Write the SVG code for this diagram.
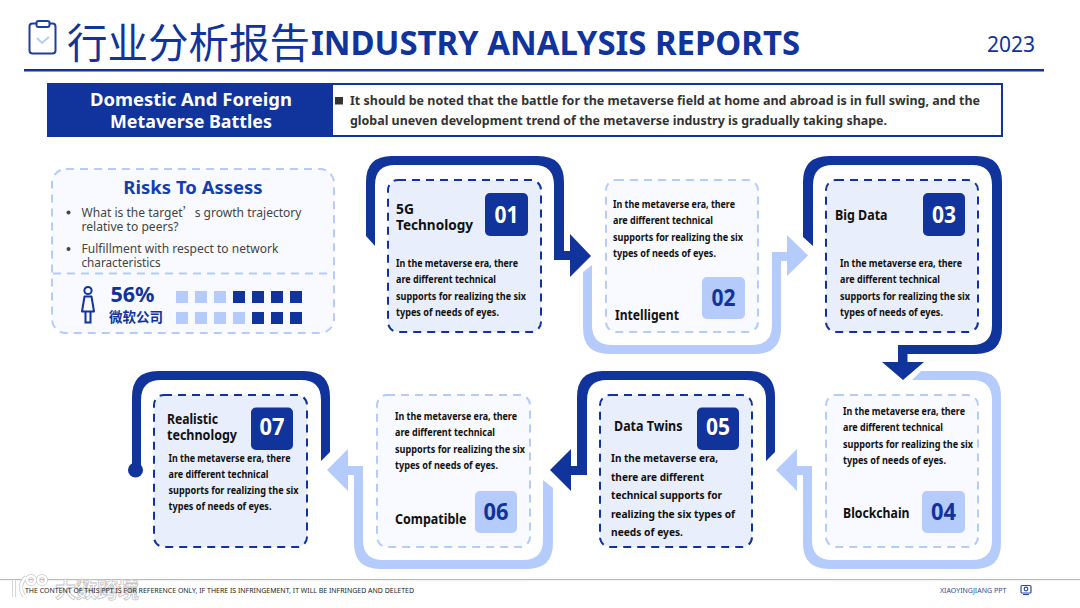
<svg xmlns="http://www.w3.org/2000/svg" width="1080" height="608" viewBox="0 0 1080 608">
<style>
text{font-family:"Noto Sans","Noto Sans CJK SC",sans-serif}
.dk{fill:#10339c}.lt{fill:#b4cbfb}
.cd{fill:#e8eefb;stroke:#10339c;stroke-width:2;stroke-dasharray:8 6}
.cl{fill:#f8faff;stroke:#b4cbfb;stroke-width:2;stroke-dasharray:8 6}
.b{font-size:10.2px;font-weight:700;fill:#111}
.b5{font-size:11.4px;font-weight:700;fill:#111}
.t{font-weight:700;fill:#111;font-size:14px}
.nw{font-size:23px;font-weight:700;fill:#fff;text-anchor:middle}
.nd{font-size:23px;font-weight:700;fill:#10339c;text-anchor:middle}
.r{font-size:12.6px;fill:#444}
</style>
<rect width="1080" height="608" fill="#fff"/>
<g id="header">
<rect x="29.500" y="23.500" width="26" height="30" rx="3" fill="none" stroke="#1d3fa0" stroke-width="2"/>
<rect x="36.500" y="21" width="13" height="6" rx="2" fill="#fff" stroke="#1d3fa0" stroke-width="2"/>
<path d="M37 38l5 5 7-6" fill="none" stroke="#b4cbfb" stroke-width="2"/>
<text x="67" y="57.500" font-size="40.500" fill="#10339c" style="font-family:'Noto Sans CJK SC',sans-serif">行业分析报告</text>
<text x="311" y="55" font-size="33.500" font-weight="700" fill="#10339c" textLength="489" lengthAdjust="spacingAndGlyphs">INDUSTRY ANALYSIS REPORTS</text>
<text x="987" y="52" font-size="21" fill="#10339c">2023</text>
<rect x="24" y="69" width="1020" height="2.500" fill="#10339c"/>
</g>
<g id="banner">
<rect x="47" y="83" width="956" height="54" fill="#10339c"/>
<rect x="333" y="85" width="668" height="50" fill="#fff"/>
<text x="191" y="106" font-size="18.500" font-weight="700" fill="#fff" text-anchor="middle" textLength="202" lengthAdjust="spacingAndGlyphs">Domestic And Foreign</text>
<text x="191" y="128" font-size="18.500" font-weight="700" fill="#fff" text-anchor="middle" textLength="162" lengthAdjust="spacingAndGlyphs">Metaverse Battles</text>
<rect x="335" y="97" width="8" height="7.500" fill="#333"/>
<text x="350" y="105" font-size="12.600" font-weight="700" fill="#333" textLength="630" lengthAdjust="spacingAndGlyphs">It should be noted that the battle for the metaverse field at home and abroad is in full swing, and the</text>
<text x="350" y="125" font-size="12.600" font-weight="700" fill="#333" textLength="537" lengthAdjust="spacingAndGlyphs">global uneven development trend of the metaverse industry is gradually taking shape.</text>
</g>
<g id="risks">
<rect x="52" y="169" width="282" height="164" rx="14" class="cl"/>
<path d="M53 273.500H334" fill="none" stroke="#b4cbfb" stroke-width="2" stroke-dasharray="8 6"/>
<text x="193" y="194" font-size="18.500" font-weight="700" fill="#1040b0" text-anchor="middle">Risks To Assess</text>
<circle cx="68.500" cy="212.500" r="2" fill="#444"/>
<circle cx="68.500" cy="249" r="2" fill="#444"/>
<text x="81.500" y="217" class="r" textLength="220" lengthAdjust="spacingAndGlyphs">What is the target<tspan style="font-family:'Noto Sans CJK SC',sans-serif">’</tspan>s growth trajectory</text>
<text x="81.500" y="231" class="r" textLength="97" lengthAdjust="spacingAndGlyphs">relative to peers?</text>
<text x="81.500" y="253" class="r" textLength="197" lengthAdjust="spacingAndGlyphs">Fulfillment with respect to network</text>
<text x="81.500" y="267" class="r" textLength="79" lengthAdjust="spacingAndGlyphs">characteristics</text>
<g fill="none" stroke="#10339c" stroke-width="2">
<circle cx="88" cy="290.500" r="3.600"/>
<path d="M84.500 296.500H91.500L94 311.500H82Z" stroke-linejoin="round"/>
<path d="M85.500 312V322.500H90.500V312"/>
</g>
<text x="110.500" y="302" font-size="21.500" font-weight="700" fill="#10339c">56%</text>
<text x="109" y="322" font-size="13.500" font-weight="700" fill="#10339c" style="font-family:'Noto Sans CJK SC',sans-serif">微软公司</text>
<g class="lt"><rect x="176" y="291" width="12" height="12"/><rect x="195" y="291" width="12" height="12"/><rect x="214" y="291" width="12" height="12"/>
<rect x="176" y="312" width="12" height="12"/><rect x="195" y="312" width="12" height="12"/><rect x="214" y="312" width="12" height="12"/><rect x="233" y="312" width="12" height="12"/></g>
<g class="dk"><rect x="233" y="291" width="12" height="12"/><rect x="252" y="291" width="12" height="12"/><rect x="271" y="291" width="12" height="12"/><rect x="290" y="291" width="12" height="12"/>
<rect x="252" y="312" width="12" height="12"/><rect x="271" y="312" width="12" height="12"/><rect x="290" y="312" width="12" height="12"/></g>
</g>
<g id="connectors">
<path class="dk" d="M366,236V182Q366,156 392,156H538Q564,156 564,182V251H570V234L591,256 570,277V260H554V185Q554,165 534,165H395Q375,165 375,185V246Z"/>
<path class="lt" d="M583,272V328Q583,354 609,354H755Q781,354 781,328V261H787V276L808,255.500 787,235V252H772V325Q772,345 752,345H612Q592,345 592,325V265Z"/>
<path class="dk" d="M803,237V182Q803,156 829,156H976Q1002,156 1002,182V328Q1002,354 976,354H907.500V362H924L903,380 882,362H898V345H972Q992,345 992,325V185Q992,165 972,165H833Q813,165 813,185V246Z"/>
<path class="lt" d="M912,380L921,371H975Q1001,371 1001,397V543Q1001,569 975,569H829Q803,569 803,543V475H797V491L776,470 797,449V466H812V540Q812,560 832,560H972Q992,560 992,540V400Q992,380 972,380Z"/>
<path class="dk" d="M775,452V397Q775,371 749,371H603Q577,371 577,397V466H571V449L550,470 571,491V475H587V400Q587,380 607,380H746Q766,380 766,400V461Z"/>
<path class="lt" d="M553,488V543Q553,569 527,569H380Q354,569 354,543V475H348V491L327,470 348,449V466H363V540Q363,560 383,560H523Q543,560 543,540V480Z"/>
<path class="dk" d="M330,452V397Q330,371 304,371H158Q132,371 132,397V465H141V400Q141,380 161,380H301Q321,380 321,400V461Z"/>
<circle class="dk" cx="135.500" cy="470" r="7.500"/>
</g>
<g id="node01">
<rect x="388" y="180" width="153" height="152" rx="10" class="cd"/>
<rect x="485" y="193" width="43" height="43" rx="5" class="dk"/><text x="506.500" y="223" class="nw" textLength="24" lengthAdjust="spacingAndGlyphs">01</text>
<text x="396" y="214" class="t" textLength="18" lengthAdjust="spacingAndGlyphs">5G</text><text x="396" y="230" class="t" textLength="77" lengthAdjust="spacingAndGlyphs">Technology</text>
<text class="b" x="396" y="267" textLength="122" lengthAdjust="spacingAndGlyphs">In the metaverse era, there</text><text class="b" x="396" y="283" textLength="100" lengthAdjust="spacingAndGlyphs">are different technical</text><text class="b" x="396" y="300" textLength="130" lengthAdjust="spacingAndGlyphs">supports for realizing the six</text><text class="b" x="396" y="316" textLength="103" lengthAdjust="spacingAndGlyphs">types of needs of eyes.</text>
</g>
<g id="node02">
<rect x="606" y="180" width="152" height="152" rx="10" class="cl"/>
<rect x="702" y="277" width="43" height="42" rx="5" class="lt"/><text x="723.500" y="306" class="nd" textLength="24" lengthAdjust="spacingAndGlyphs">02</text>
<text x="615" y="319.500" class="t" textLength="64" lengthAdjust="spacingAndGlyphs">Intelligent</text>
<text class="b" x="613" y="208" textLength="122" lengthAdjust="spacingAndGlyphs">In the metaverse era, there</text><text class="b" x="613" y="224" textLength="100" lengthAdjust="spacingAndGlyphs">are different technical</text><text class="b" x="613" y="241" textLength="130" lengthAdjust="spacingAndGlyphs">supports for realizing the six</text><text class="b" x="613" y="257" textLength="103" lengthAdjust="spacingAndGlyphs">types of needs of eyes.</text>
</g>
<g id="node03">
<rect x="826" y="180" width="152" height="152" rx="10" class="cd"/>
<rect x="923" y="193" width="42" height="43" rx="5" class="dk"/><text x="944" y="223" class="nw" textLength="24" lengthAdjust="spacingAndGlyphs">03</text>
<text x="835" y="220" class="t" textLength="52.500" lengthAdjust="spacingAndGlyphs">Big Data</text>
<text class="b" x="840" y="267" textLength="122" lengthAdjust="spacingAndGlyphs">In the metaverse era, there</text><text class="b" x="840" y="283" textLength="100" lengthAdjust="spacingAndGlyphs">are different technical</text><text class="b" x="840" y="300" textLength="130" lengthAdjust="spacingAndGlyphs">supports for realizing the six</text><text class="b" x="840" y="316" textLength="103" lengthAdjust="spacingAndGlyphs">types of needs of eyes.</text>
</g>
<g id="node04">
<rect x="826" y="395" width="152" height="152" rx="10" class="cl"/>
<rect x="922" y="491" width="43" height="42" rx="5" class="lt"/><text x="943.500" y="520" class="nd" textLength="25" lengthAdjust="spacingAndGlyphs">04</text>
<text x="843" y="518" class="t" textLength="66.500" lengthAdjust="spacingAndGlyphs">Blockchain</text>
<text class="b" x="843" y="415" textLength="122" lengthAdjust="spacingAndGlyphs">In the metaverse era, there</text><text class="b" x="843" y="431" textLength="100" lengthAdjust="spacingAndGlyphs">are different technical</text><text class="b" x="843" y="448" textLength="130" lengthAdjust="spacingAndGlyphs">supports for realizing the six</text><text class="b" x="843" y="464" textLength="103" lengthAdjust="spacingAndGlyphs">types of needs of eyes.</text>
</g>
<g id="node05">
<rect x="600" y="395" width="152" height="152" rx="10" class="cd"/>
<rect x="697" y="407.500" width="42" height="42.500" rx="5" class="dk"/><text x="718" y="435" class="nw" textLength="24" lengthAdjust="spacingAndGlyphs">05</text>
<text x="614" y="431" class="t" textLength="68.500" lengthAdjust="spacingAndGlyphs">Data Twins</text>
<text class="b5" x="611" y="462" textLength="107" lengthAdjust="spacingAndGlyphs">In the metaverse era,</text><text class="b5" x="611" y="481" textLength="93" lengthAdjust="spacingAndGlyphs">there are different</text><text class="b5" x="611" y="499" textLength="111" lengthAdjust="spacingAndGlyphs">technical supports for</text><text class="b5" x="611" y="518" textLength="124" lengthAdjust="spacingAndGlyphs">realizing the six types of</text><text class="b5" x="611" y="536" textLength="72" lengthAdjust="spacingAndGlyphs">needs of eyes.</text>
</g>
<g id="node06">
<rect x="377" y="395" width="153" height="152" rx="10" class="cl"/>
<rect x="475" y="491" width="42" height="42" rx="5" class="lt"/><text x="496" y="520" class="nd" textLength="25" lengthAdjust="spacingAndGlyphs">06</text>
<text x="395" y="524" class="t" textLength="71.500" lengthAdjust="spacingAndGlyphs">Compatible</text>
<text class="b" x="395" y="420" textLength="122" lengthAdjust="spacingAndGlyphs">In the metaverse era, there</text><text class="b" x="395" y="436" textLength="100" lengthAdjust="spacingAndGlyphs">are different technical</text><text class="b" x="395" y="453" textLength="130" lengthAdjust="spacingAndGlyphs">supports for realizing the six</text><text class="b" x="395" y="469" textLength="103" lengthAdjust="spacingAndGlyphs">types of needs of eyes.</text>
</g>
<g id="node07">
<rect x="154" y="395" width="153" height="152" rx="10" class="cd"/>
<rect x="251" y="407.500" width="42" height="42.500" rx="5" class="dk"/><text x="272" y="435" class="nw" textLength="25" lengthAdjust="spacingAndGlyphs">07</text>
<text x="167" y="424" class="t" textLength="51" lengthAdjust="spacingAndGlyphs">Realistic</text><text x="167" y="440" class="t" textLength="70" lengthAdjust="spacingAndGlyphs">technology</text>
<text class="b" x="168.500" y="462" textLength="122" lengthAdjust="spacingAndGlyphs">In the metaverse era, there</text><text class="b" x="168.500" y="478" textLength="100" lengthAdjust="spacingAndGlyphs">are different technical</text><text class="b" x="168.500" y="494" textLength="130" lengthAdjust="spacingAndGlyphs">supports for realizing the six</text><text class="b" x="168.500" y="510" textLength="103" lengthAdjust="spacingAndGlyphs">types of needs of eyes.</text>
</g>
<g id="footer">
<rect x="0" y="579" width="1080" height="1.200" fill="#bbb"/>
<g id="watermark" fill="none">
<g stroke="#ccc" stroke-width="4"><path d="M14 580V597"/><path d="M26 577Q17 586 24 596"/><circle cx="31" cy="580" r="4"/><circle cx="42" cy="580" r="4"/></g>
<g stroke="#fff" stroke-width="2.400"><path d="M14 580V597"/><path d="M26 577Q17 586 24 596"/><circle cx="31" cy="580" r="4"/><circle cx="42" cy="580" r="4"/></g>
</g>
<text x="55" y="597" font-size="21" font-weight="700" fill="#fff" stroke="#c4c4c4" stroke-width=".8" style="font-family:'Noto Sans CJK SC',sans-serif">大数跨境</text>
<text x="25" y="593" font-size="7.200" fill="#222" textLength="389" lengthAdjust="spacingAndGlyphs">THE CONTENT OF THIS PPT IS FOR REFERENCE ONLY, IF THERE IS INFRINGEMENT, IT WILL BE INFRINGED AND DELETED</text>
<text x="940" y="593" font-size="7" fill="#2e4a9e">XIAOYINGJIANG PPT</text>
<g fill="none" stroke="#2e4a9e" stroke-width="1.200"><rect x="1021" y="585.500" width="10" height="7.500" rx="1"/><circle cx="1026" cy="589" r="1.800"/><path d="M1023 594.500h6"/></g>
</g>
</svg>
